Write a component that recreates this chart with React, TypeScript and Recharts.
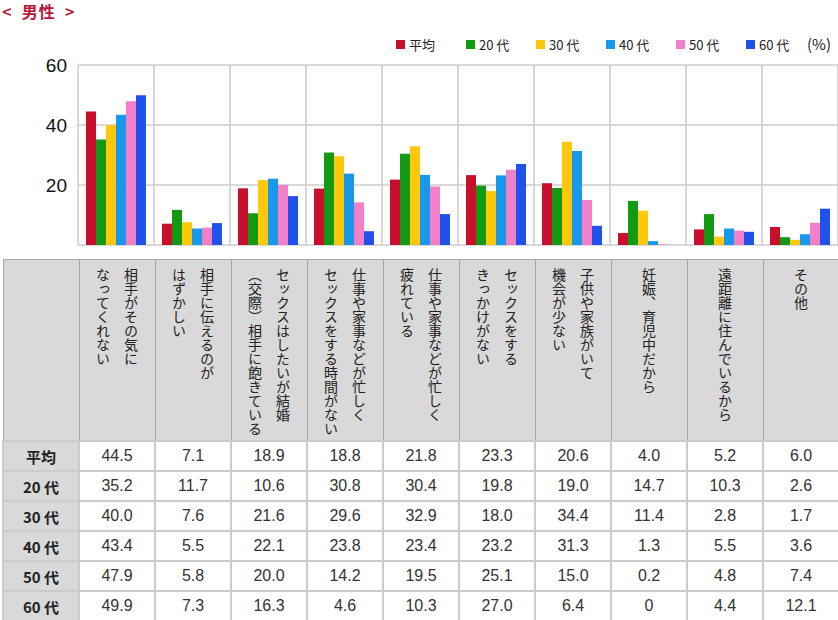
import { BarChart, Bar, XAxis, YAxis, CartesianGrid } from 'recharts';

// category labels (line breaks as in the header cells)
const categories: string[][] = [
  ['相手がその気に', 'なってくれない'],
  ['相手に伝えるのが', 'はずかしい'],
  ['セックスはしたいが結婚', '（交際）相手に飽きている'],
  ['仕事や家事などが忙しく', 'セックスをする時間がない'],
  ['仕事や家事などが忙しく', '疲れている'],
  ['セックスをする', 'きっかけがない'],
  ['子供や家族がいて', '機会が少ない'],
  ['妊娠、育児中だから'],
  ['遠距離に住んでいるから'],
  ['その他'],
];

const seriesNames = ['平均', '20代', '30代', '40代', '50代', '60代'];
const seriesColors = ['#c8102e', '#139a13', '#ffc80a', '#1898ea', '#f27fc8', '#1f52ea'];

const avg = [44.5, 7.1, 18.9, 18.8, 21.8, 23.3, 20.6, 4.0, 5.2, 6.0];
const age20 = [35.2, 11.7, 10.6, 30.8, 30.4, 19.8, 19.0, 14.7, 10.3, 2.6];
const age30 = [40.0, 7.6, 21.6, 29.6, 32.9, 18.0, 34.4, 11.4, 2.8, 1.7];
const age40 = [43.4, 5.5, 22.1, 23.8, 23.4, 23.2, 31.3, 1.3, 5.5, 3.6];
const age50 = [47.9, 5.8, 20.0, 14.2, 19.5, 25.1, 15.0, 0.2, 4.8, 7.4];
const age60 = [49.9, 7.3, 16.3, 4.6, 10.3, 27.0, 6.4, 0, 4.4, 12.1];

const yTicks = [0, 20, 40, 60];

const seriesValues = [avg, age20, age30, age40, age50, age60];

const chartData = categories.map((c, i) => {
  const row: Record<string, string | number> = { name: c.join('') };
  seriesNames.forEach((s, j) => {
    row[s] = seriesValues[j][i];
  });
  return row;
});

const fmt = (v: number) => (v === 0 ? '0' : v.toFixed(1));
// digits and the kanji are set apart a little in the original
const spaced = (s: string) => s.replace(/(\d)代/, '$1 代');

const JP = '"Noto Sans CJK JP", "Noto Sans", sans-serif';
const NUM = '"Liberation Sans", Arial, sans-serif';

const headCell = {
  border: '1px solid #a8a8a8',
  background: '#d9d9d9',
  height: 178,
  padding: 0,
  verticalAlign: 'top' as const,
  textAlign: 'center' as const,
};

const labelCell = {
  border: '2px solid #cccccc',
  background: '#d9d9d9',
  height: 28,
  padding: 0,
  textAlign: 'center' as const,
  fontFamily: JP,
  fontWeight: 700,
  fontSize: 15,
  color: '#222',
  whiteSpace: 'pre' as const,
};

const valueCell = {
  border: '2px solid #cccccc',
  background: '#fff',
  height: 28,
  padding: 0,
  textAlign: 'center' as const,
  fontFamily: NUM,
  fontSize: 16,
  color: '#333',
};

export default function App() {
  const n = categories.length;
  return (
    <div
      style={{
        position: 'absolute',
        left: 0,
        top: 0,
        width: 838,
        height: 620,
        background: '#fff',
        overflow: 'hidden',
      }}
    >
      {/* title */}
      <div
        style={{
          position: 'absolute',
          left: 2,
          top: 2,
          lineHeight: '18px',
          fontFamily: JP,
          fontWeight: 700,
          fontSize: 16,
          letterSpacing: 1,
          color: '#b8163a',
          whiteSpace: 'pre',
        }}
      >
        {'<  男性  >'}
      </div>

      {/* legend */}
      <div style={{ position: 'absolute', left: 396, top: 35, height: 18 }}>
        {seriesNames.map((s, i) => (
          <div
            key={s}
            style={{
              position: 'absolute',
              left: i * 70,
              top: 0,
              display: 'flex',
              alignItems: 'center',
              height: 18,
              whiteSpace: 'pre',
              fontFamily: JP,
              fontSize: 13,
              color: '#222',
            }}
          >
            <span style={{ width: 9, height: 9, background: seriesColors[i], marginRight: 4 }} />
            {spaced(s)}
          </div>
        ))}
        <div
          style={{
            position: 'absolute',
            left: 411,
            top: 0,
            height: 18,
            lineHeight: '18px',
            fontFamily: JP,
            fontSize: 15,
            color: '#222',
          }}
        >
          (%)
        </div>
      </div>

      {/* chart */}
      <div style={{ position: 'absolute', left: 0, top: 0 }}>
        <BarChart
          width={838}
          height={252}
          data={chartData}
          margin={{ top: 65, right: 0, bottom: 7, left: 0 }}
          barCategoryGap="10.5%"
          barGap={0}
        >
          <CartesianGrid
            stroke="#cccccc"
            strokeWidth={1.5}
            verticalCoordinatesGenerator={({ offset }: any) =>
              Array.from({ length: n + 1 }, (_, i) => offset.left + (offset.width * i) / n)
            }
          />
          <XAxis dataKey="name" hide />
          <YAxis
            width={78}
            domain={[0, 60]}
            ticks={yTicks}
            axisLine={false}
            tickLine={false}
            tickMargin={5}
            tick={{ fill: '#111', fontSize: 19, fontFamily: NUM }}
          />
          {seriesNames.map((s, i) => (
            <Bar key={s} dataKey={s} fill={seriesColors[i]} isAnimationActive={false} />
          ))}
        </BarChart>
      </div>

      {/* table */}
      <table
        style={{
          position: 'absolute',
          left: 2,
          top: 259,
          width: 836,
          borderCollapse: 'collapse',
          tableLayout: 'fixed',
        }}
      >
        <colgroup>
          <col style={{ width: 76 }} />
          {categories.map((_, i) => (
            <col key={i} style={{ width: 76 }} />
          ))}
        </colgroup>
        <tbody>
          <tr>
            <td style={headCell} />
            {categories.map((lines, i) => (
              <td key={i} style={headCell}>
                <div
                  style={{
                    display: 'inline-block',
                    writingMode: 'vertical-rl',
                    textAlign: 'start',
                    fontFamily: JP,
                    fontSize: 14,
                    lineHeight: '28px',
                    color: '#222',
                    paddingTop: 8,
                    whiteSpace: 'nowrap',
                  }}
                >
                  {lines.map((l, k) => (
                    <div key={k}>{l}</div>
                  ))}
                </div>
              </td>
            ))}
          </tr>
          {seriesNames.map((s, j) => (
            <tr key={s}>
              <td style={labelCell}>{spaced(s)}</td>
              {seriesValues[j].map((v, i) => (
                <td key={i} style={valueCell}>
                  {fmt(v)}
                </td>
              ))}
            </tr>
          ))}
        </tbody>
      </table>
    </div>
  );
}
